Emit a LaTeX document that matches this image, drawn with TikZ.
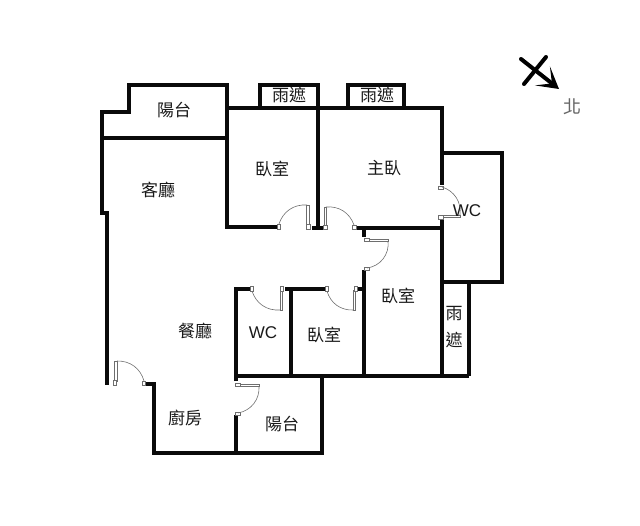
\documentclass[tikz,border=0pt]{standalone}
\usepackage{fontspec}
\setmainfont{Noto Sans CJK TC}
\newfontfamily\latinfont{Liberation Sans}
\usetikzlibrary{arrows.meta}
\definecolor{wallblack}{HTML}{0A0A0A}
\definecolor{doorgray}{HTML}{6E6E6E}
\tikzset{
  wall/.style={draw=wallblack, line width=4.5pt, line join=miter},
  doorleaf/.style={draw=doorgray, line width=0.6pt, fill=white},
  doorarc/.style={draw=doorgray, line width=0.6pt},
  room/.style={font=\fontsize{17}{19}\selectfont, text=black!90, inner sep=0pt, align=center},
  wclabel/.style={font=\latinfont\fontsize{17}{20}\selectfont, text=black!90, inner sep=0pt},
}
\begin{document}
\begin{tikzpicture}[x=1pt,y=-1pt]
    \useasboundingbox (0,0) rectangle (640,525);

    % Outer walls
    \draw[wall] (227,138) -- (227,85) -- (129,85) -- (129,112) -- (102,112) -- (102,213) -- (107,213) -- (107,385);
    \draw[wall] (145,384) -- (154,384) -- (154,453) -- (322,453) -- (322,376);
    \draw[wall] (102,138) -- (227,138) -- (227,227) -- (277,227);
    \draw[wall] (227,108) -- (442,108) -- (442,185);
    \draw[wall] (442,218) -- (442,376);
    \draw[wall] (260,108) -- (260,85) -- (318,85) -- (318,229);
    \draw[wall] (312,228) -- (323,228);
    \draw[wall] (348,108) -- (348,85) -- (404,85) -- (404,108);
    \draw[wall] (442,153) -- (502,153) -- (502,282) -- (442,282);
    \draw[wall] (469,282) -- (469,376);

    % Inner walls
    \draw[wall] (356,228) -- (442,228);
    \draw[wall] (364,228) -- (364,237);
    \draw[wall] (364,270) -- (364,376);
    \draw[wall] (236,381) -- (236,376) -- (469,376);
    \draw[wall] (236,376) -- (236,289) -- (250,289);
    \draw[wall] (285,289) -- (325,289);
    \draw[wall] (291,289) -- (291,376);
    \draw[wall] (358,289) -- (364,289);
    \draw[wall] (236,415) -- (236,453);

    % Doors
    \draw[doorleaf] (306.5,205) rectangle (309,225);
    \draw[doorleaf] (306,224) rectangle (310,229);
    \draw[doorleaf] (277,224) rectangle (280,229);
    \draw[doorarc] (307,205) to[bend right=38] (279,224);

    \draw[doorleaf] (324,207) rectangle (326.5,226);
    \draw[doorleaf] (323,225) rectangle (327,229);
    \draw[doorleaf] (352,225) rectangle (356,229);
    \draw[doorarc] (326,207) to[bend left=38] (354,225);

    \draw[doorleaf] (365,239) rectangle (388,241.5);
    \draw[doorleaf] (364,238) rectangle (369,241);
    \draw[doorleaf] (364,267) rectangle (369,270.5);
    \draw[doorarc] (388,241) to[bend left=45] (367,268);

    \draw[doorleaf] (441,215) rectangle (460,217.5);
    \draw[doorleaf] (438,215.5) rectangle (443,219);
    \draw[doorleaf] (438,186) rectangle (443,189);
    \draw[doorarc] (460,215) to[bend right=40] (442,187);

    \draw[doorleaf] (280,290) rectangle (282.5,310);
    \draw[doorleaf] (280,286) rectangle (283,291);
    \draw[doorleaf] (250,286) rectangle (253,291);
    \draw[doorarc] (280,310) to[bend left=38] (252,291);

    \draw[doorleaf] (353,290) rectangle (355.5,310);
    \draw[doorleaf] (354,286) rectangle (357,291);
    \draw[doorleaf] (325,286) rectangle (328,291);
    \draw[doorarc] (353,310) to[bend left=38] (327,291);

    \draw[doorleaf] (114.5,361) rectangle (117,381);
    \draw[doorleaf] (113,380) rectangle (116,385.5);
    \draw[doorleaf] (142,381) rectangle (145,385.5);
    \draw[doorarc] (117,361) to[bend left=38] (144,381);

    \draw[doorleaf] (238,384.5) rectangle (259,386.5);
    \draw[doorleaf] (235,383) rectangle (240,386);
    \draw[doorleaf] (235,412) rectangle (240,415.5);
    \draw[doorarc] (259,386) to[bend left=42] (238,413);

    % Room labels
    \node[room] (balconytop) at (174,110) {陽台};
    \node[room] (rainone) at (289,95) {雨遮};
    \node[room] (raintwo) at (377,95) {雨遮};
    \node[room] (bedroomone) at (272,169) {臥室};
    \node[room] (living) at (158,190) {客廳};
    \node[room] (master) at (384,168) {主臥};
    \node[wclabel] (wcone) at (467,211) {WC};
    \node[room] (bedroomtwo) at (398,296) {臥室};
    \node[room, font=\fontsize{17}{27}\selectfont] (rainthree) at (454,327) {雨\\遮};
    \node[room] (dining) at (195,331) {餐廳};
    \node[wclabel] (wctwo) at (263,333) {WC};
    \node[room] (bedroomthree) at (324,335) {臥室};
    \node[room] (kitchen) at (185,418) {廚房};
    \node[room] (balconylow) at (282,424) {陽台};

    % North mark
    \coordinate (crossa) at (546,57);
    \coordinate (crossb) at (524,84);
    \coordinate (northa) at (521,59);
    \coordinate (northb) at (559,89);
    \draw[line width=4pt, line cap=round] (crossa) -- (crossb);
    \draw[line width=4pt, line cap=round, shorten >=8pt] (northa) -- (northb);
    \draw[line width=2.5pt, -{Stealth[length=21pt, width=24pt, inset=12pt]}] (northa) -- (northb);
    \node[room, font=\fontsize{18}{20}\selectfont, text=black!60] (north) at (572,107) {北};
\end{tikzpicture}
\end{document}
